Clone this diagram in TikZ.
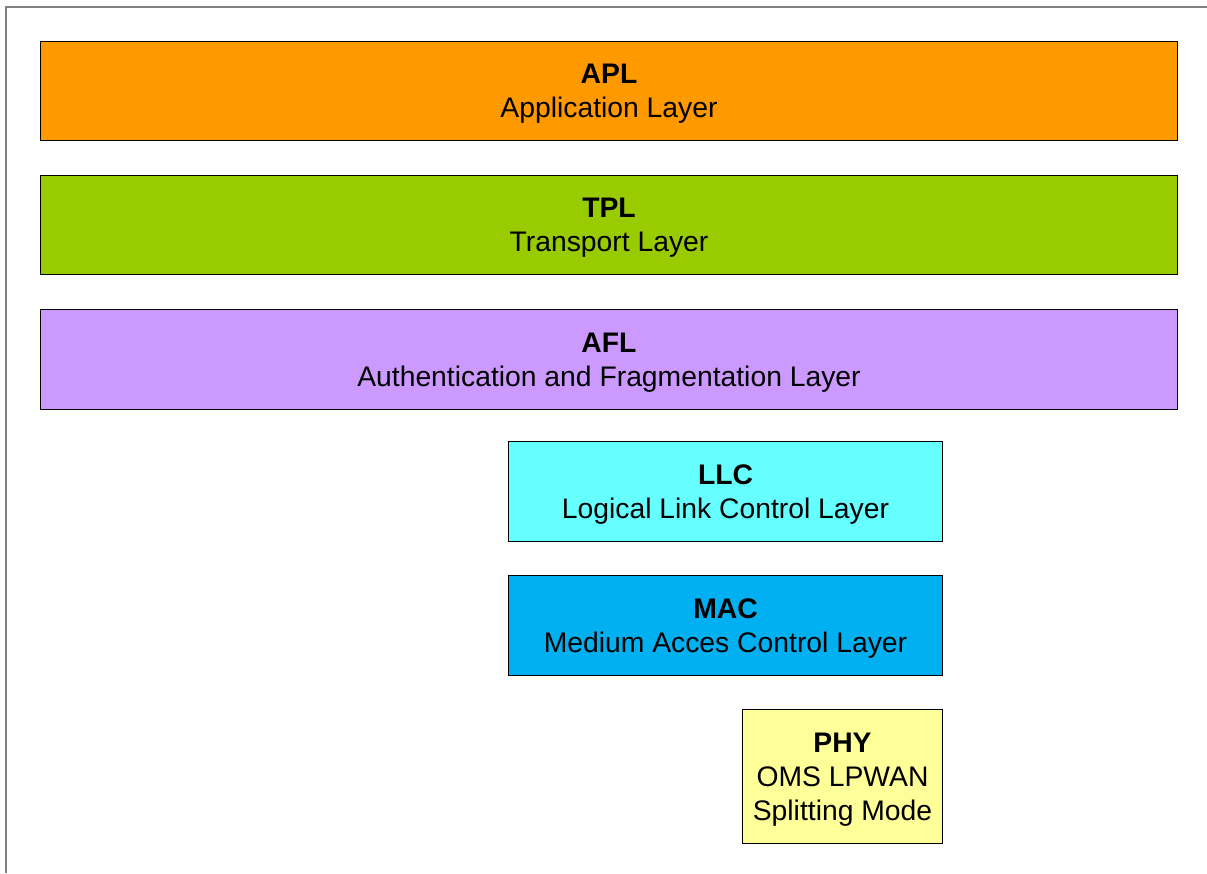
\documentclass[tikz,border=0pt]{standalone}
\usepackage{fontspec}
\setmainfont{Liberation Sans}
\definecolor{aplc}{HTML}{FF9900}
\definecolor{tplc}{HTML}{99CC00}
\definecolor{aflc}{HTML}{CC99FF}
\definecolor{llcc}{HTML}{66FFFF}
\definecolor{macc}{HTML}{00B0F0}
\definecolor{phyc}{HTML}{FFFF99}
\definecolor{framec}{HTML}{808080}
\tikzset{
  layer/.style={draw=black, line width=1pt, anchor=north west, inner sep=0pt,
    align=center, font=\fontsize{28.3}{34}\selectfont,
    text depth=0pt, inner ysep=0pt},
}
\begin{document}
\begin{tikzpicture}[x=1pt,y=-1pt]
\useasboundingbox (0,0) rectangle (1207,873);
% outer frame (top and left edges)
\coordinate (fbl) at (6,873);
\coordinate (ftl) at (6,7);
\coordinate (ftr) at (1207,7);
\draw[framec, line width=2pt] (fbl) -- (ftl) -- (ftr);
% protocol layers
\node[layer, fill=aplc, minimum width=1137pt, minimum height=99pt] (apl) at (40,41)
  {\textbf{APL}\\Application Layer};
\node[layer, fill=tplc, minimum width=1137pt, minimum height=99pt] (tpl) at (40,175)
  {\textbf{TPL}\\Transport Layer};
\node[layer, fill=aflc, minimum width=1137pt, minimum height=100pt] (afl) at (40,309)
  {\textbf{AFL}\\Authentication and Fragmentation Layer};
\node[layer, fill=llcc, minimum width=434pt, minimum height=100pt] (llc) at (508,441)
  {\textbf{LLC}\\Logical Link Control Layer};
\node[layer, fill=macc, minimum width=434pt, minimum height=100pt] (mac) at (508,575)
  {\textbf{MAC}\\Medium Acces Control Layer};
\node[layer, fill=phyc, minimum width=200pt, minimum height=134pt] (phy) at (742,709)
  {\textbf{PHY}\\OMS LPWAN\\Splitting Mode};
\end{tikzpicture}
\end{document}
